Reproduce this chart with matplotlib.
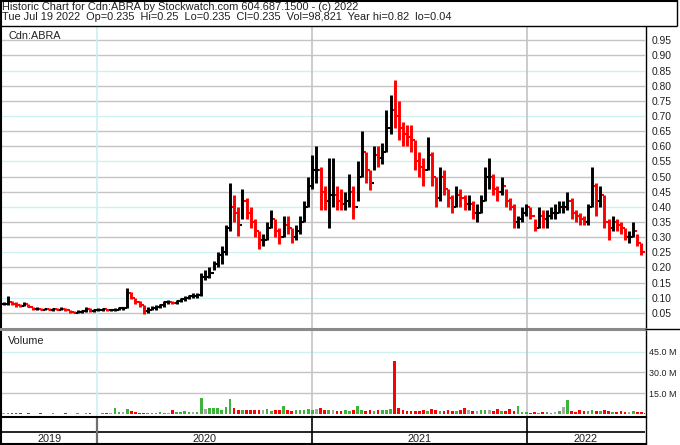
import numpy as np
import pandas as pd
import matplotlib
matplotlib.use("Agg")
import matplotlib.pyplot as plt
import matplotlib.dates as mdates

plt.rcParams['font.family'] = ['Liberation Sans', 'DejaVu Sans']

header1 = "Historic Chart for Cdn:ABRA by Stockwatch.com 604.687.1500 - (c) 2022"
header2 = ("Tue Jul 19 2022  Op=0.235  Hi=0.25  Lo=0.235  Cl=0.235  "
           "Vol=98,821  Year hi=0.82  lo=0.04")
symbol = "Cdn:ABRA"

# weekly bars (Jul 2019 - Jul 2022)
week_dates = pd.date_range("2019-07-26", periods=157, freq="7D")

high = [.085, .104, .09, .085, .08, .085, .08, .07, .068, .066,
        .066, .066, .065, .065, .068, .066, .06, .056, .058, .06,
        .07, .065, .062, .065, .066, .064, .062, .065, .068, .07,
        .132, .12, .1, .09, .075, .068, .072, .075, .08, .09,
        .092, .09, .092, .1, .105, .11, .115, .115, .18, .19,
        .2, .22, .25, .27, .34, .48, .44, .40, .46, .43,
        .40, .36, .32, .31, .35, .39, .36, .33, .37, .37,
        .33, .34, .37, .42, .50, .57, .60, .53, .47, .56,
        .56, .47, .46, .45, .51, .47, .55, .65, .58, .52,
        .60, .60, .61, .72, .77, .82, .75, .68, .67, .67,
        .62, .58, .56, .63, .58, .50, .53, .52, .46, .44,
        .47, .46, .44, .44, .42, .41, .44, .53, .56, .51,
        .47, .50, .46, .43, .41, .37, .40, .41, .40, .36,
        .40, .39, .39, .40, .41, .42, .42, .45, .43, .39,
        .38, .37, .41, .53, .48, .47, .44, .36, .37, .36,
        .35, .33, .32, .35, .31, .28, .255]

low = [.075, .075, .075, .07, .07, .072, .068, .06, .058, .058,
       .058, .058, .057, .058, .058, .055, .05, .048, .048, .05,
       .052, .052, .052, .055, .056, .055, .055, .055, .058, .06,
       .065, .095, .08, .07, .045, .05, .058, .06, .065, .07,
       .078, .078, .08, .085, .09, .095, .098, .1, .105, .16,
       .165, .19, .2, .21, .24, .32, .35, .305, .36, .36,
       .33, .30, .26, .27, .29, .33, .30, .277, .30, .31,
       .28, .29, .31, .35, .40, .46, .48, .39, .39, .33,
       .40, .39, .39, .39, .40, .36, .42, .50, .48, .455,
       .52, .53, .54, .58, .64, .66, .62, .60, .60, .58,
       .52, .50, .47, .52, .47, .40, .42, .44, .40, .38,
       .40, .40, .39, .39, .36, .35, .38, .42, .46, .44,
       .42, .44, .40, .39, .33, .33, .35, .37, .36, .32,
       .33, .33, .33, .36, .36, .38, .38, .39, .36, .35,
       .34, .34, .34, .40, .37, .40, .33, .29, .32, .32,
       .31, .29, .28, .30, .27, .24, .22]

close = [.08, .085, .08, .075, .072, .08, .07, .062, .063, .06,
         .062, .06, .062, .06, .062, .058, .053, .05, .052, .055,
         .062, .055, .058, .06, .062, .058, .058, .06, .065, .065,
         .115, .1, .085, .075, .055, .06, .065, .068, .075, .085,
         .085, .082, .088, .095, .1, .105, .105, .11, .17, .17,
         .18, .21, .24, .25, .33, .40, .38, .34, .42, .38,
         .35, .32, .29, .29, .33, .36, .32, .30, .34, .33,
         .30, .32, .35, .40, .47, .52, .52, .45, .42, .44,
         .44, .42, .41, .42, .45, .40, .50, .58, .52, .48,
         .57, .56, .58, .66, .72, .70, .66, .64, .63, .62,
         .55, .53, .52, .57, .50, .43, .50, .46, .43, .40,
         .44, .43, .41, .41, .38, .38, .42, .50, .50, .46,
         .45, .47, .42, .40, .35, .36, .38, .40, .37, .33,
         .37, .36, .37, .38, .38, .40, .40, .42, .38, .37,
         .36, .35, .40, .47, .42, .44, .35, .33, .35, .34,
         .33, .30, .30, .32, .28, .25, .235]

# volume in millions
volume_m = [0.6, 0.8, 0.5, 0.4, 0.5, 0.3, 0.4, 0.3, 0.3, 0.4, 0.3, 0.3,
            0.5, 0.3, 0.3, 0.4, 0.3, 0.3, 0.4, 0.3, 0.6, 0.4, 0.3, 0.3,
            0.4, 0.5, 0.6, 4.0, 1.2, 1.5, 3.5, 2.0, 1.5, 1.0, 0.8, 0.8,
            1.0, 0.9, 1.2, 1.0, 1.0, 2.5, 1.2, 1.5, 1.8, 1.3, 1.2, 1.5,
            11.4, 3.5, 4.0, 4.2, 4.5, 3.0, 5.0, 10.9, 4.0, 3.0, 3.2, 2.8,
            3.0, 2.5, 3.0, 2.5, 3.5, 2.0, 2.5, 3.0, 5.8, 2.5, 2.0, 2.5,
            2.5, 3.0, 3.5, 3.0, 3.5, 4.0, 3.0, 2.5, 3.0, 2.0, 2.0, 2.5,
            2.0, 2.5, 5.8, 2.5, 2.0, 2.5, 2.0, 2.5, 3.0, 3.0, 3.5, 38.6,
            4.0, 2.5, 2.0, 2.0, 1.8, 2.0, 2.5, 2.0, 3.8, 2.5, 2.0, 2.0,
            2.5, 2.0, 2.0, 2.5, 4.5, 2.5, 2.0, 2.0, 2.5, 3.0, 2.5, 2.0,
            3.8, 2.0, 2.0, 3.3, 2.0, 5.8, 1.5, 1.2, 1.0, 1.2, 1.0, 1.5,
            1.2, 1.0, 1.5, 2.0, 5.0, 10.1, 2.0, 1.5, 2.5, 2.0, 1.8, 2.5,
            2.0, 1.8, 2.5, 2.0, 1.5, 1.5, 1.8, 1.5, 1.5, 2.0, 1.5, 1.2, 1.0]

years = ["2019", "2020", "2021", "2022"]
year_starts = pd.to_datetime(["2020-01-01", "2021-01-01", "2022-01-01"])
price_ticks = [0.05, 0.10, 0.15, 0.20, 0.25, 0.30, 0.35, 0.40, 0.45,
               0.50, 0.55, 0.60, 0.65, 0.70, 0.75, 0.80, 0.85, 0.90, 0.95]
cyan_ticks = [0.10, 0.25, 0.40, 0.55, 0.70, 0.85]
vol_ticks = [15, 30, 45]

x_start = pd.Timestamp("2019-07-23")
x_end = pd.Timestamp("2022-07-21")

GRID = "#c4c4c4"
CYAN = "#cdf0f0"
GREEN = "#3cb43c"

W, H = 680, 445
fig = plt.figure(figsize=(W / 100, H / 100), dpi=100)


def rect(l, t, r, b):
    return [l / W, 1 - b / H, (r - l) / W, (b - t) / H]


dates = mdates.date2num(week_dates)
hi = np.array(high)
lo = np.array(low)
cl = np.array(close)
op = np.concatenate([[cl[0]], cl[:-1]])
vol = np.array(volume_m)

# ---- price panel
ax = fig.add_axes(rect(2, 26, 645, 328))
ax.set_xlim(mdates.date2num(x_start), mdates.date2num(x_end))
ax.set_ylim(0, 0.997)
for t in price_ticks:
    ax.axhline(t, color=CYAN if t in cyan_ticks else GRID, lw=1.0, zorder=0)
for i, d in enumerate(year_starts):
    ax.axvline(mdates.date2num(d), color=CYAN if i == 0 else GRID, lw=1.2, zorder=0)

bar_col = np.where(cl >= op, "black", "#ff0000")
ax.vlines(dates, lo, hi, colors=bar_col, lw=2.1, zorder=2)
ax.hlines(op, dates - 3.5, dates, colors=bar_col, lw=1.5, zorder=2)
ax.hlines(cl, dates, dates + 3.5, colors=bar_col, lw=1.5, zorder=2)

ax.yaxis.tick_right()
ax.set_yticks(price_ticks)
ax.set_yticklabels([f"{t:.2f}" for t in price_ticks])
ax.tick_params(axis="y", length=0, pad=4.5, labelsize=7.4, labelcolor="#202020")
ax.set_xticks([])
for s in ax.spines.values():
    s.set_visible(False)
ax.text(0.01, 0.985, symbol, transform=ax.transAxes, fontsize=7.8,
        va="top", ha="left", color="#202020")

# ---- volume panel
av = fig.add_axes(rect(2, 330, 645, 417))
av.set_xlim(ax.get_xlim())
av.set_ylim(-2.2, 60.7)
for t in vol_ticks:
    av.axhline(t, color=CYAN if t == 45 else GRID, lw=1.0, zorder=0)
for i, d in enumerate(year_starts):
    av.axvline(mdates.date2num(d), color=CYAN if i == 0 else GRID, lw=1.2, zorder=0)
vol_col = np.where(cl > op, GREEN, np.where(cl < op, "#ff0000", "#a8a8a8"))
av.bar(dates, vol, width=4.5, color=vol_col, linewidth=0, zorder=2)
av.yaxis.tick_right()
av.set_yticks(vol_ticks)
av.set_yticklabels([f"{t:.1f} M" for t in vol_ticks])
av.tick_params(axis="y", length=0, pad=3.0, labelsize=6.4, labelcolor="#202020")
av.set_xticks([])
for s in av.spines.values():
    s.set_visible(False)
av.text(0.01, 0.93, "Volume", transform=av.transAxes, fontsize=7.8,
        va="top", ha="left", color="#202020")

# ---- year strip
ay = fig.add_axes(rect(2, 417, 645, 444))
ay.set_xlim(ax.get_xlim())
ay.set_ylim(0, 27)
ay.axhline(12, color="black", lw=1.2)
bounds = [mdates.date2num(x_start)] + list(mdates.date2num(year_starts)) + [mdates.date2num(x_end)]
for i, d in enumerate(year_starts):
    ay.axvline(mdates.date2num(d), color="#707070" if i == 0 else "black",
               lw=1.6 if i == 0 else 1.2)
for i, y in enumerate(years):
    ay.text((bounds[i] + bounds[i + 1]) / 2, 5.5, y, ha="center", va="center",
            fontsize=7.8, color="#202020")
ay.axis("off")

# ---- frame lines
fr = fig.add_axes([0, 0, 1, 1])
fr.set_xlim(0, W)
fr.set_ylim(H, 0)
fr.axis("off")
fr.patch.set_visible(False)
fr.text(2, 2, header1, fontsize=7.95, va="top", ha="left", color="#202020")
fr.text(2, 12.5, header2, fontsize=7.95, va="top", ha="left", color="#202020")
k = dict(color="black", lw=1.0, solid_capstyle="butt")
fr.plot([0.7, 0.7], [0, H], color="black", lw=1.5)
fr.plot([0, 677], [0.7, 0.7], color="black", lw=1.5)
fr.plot([676.5, 676.5], [0, 26], **k)
fr.plot([0, 677], [26, 26], **k)
fr.plot([645.5, 645.5], [26, H], **k)
fr.plot([0, 645], [328.8, 328.8], color="#8a8a8a", lw=2.2)
fr.plot([645, W], [328.5, 328.5], **k)
fr.plot([0, 646], [416.5, 416.5], color="black", lw=1.5)
fr.plot([0, 646], [443.8, 443.8], color="black", lw=1.5)

fig.savefig("out.png", dpi=100)
